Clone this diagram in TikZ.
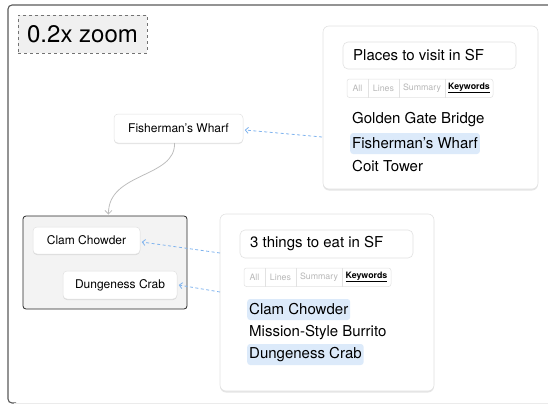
\documentclass[tikz,border=0pt]{standalone}
\usepackage{fontspec}
\setmainfont{TeX Gyre Heros}
\usetikzlibrary{arrows.meta,shadows,calc}
\definecolor{hl}{HTML}{DCEAFA}
\definecolor{linkblue}{HTML}{7FB3EE}
\definecolor{cardline}{HTML}{E2E2E2}
\definecolor{tabtext}{HTML}{B8B8B8}
\definecolor{groupfill}{HTML}{F3F3F3}
\definecolor{zoomfill}{HTML}{F0F0F0}
\definecolor{curvegray}{HTML}{BDBDBD}
\tikzset{
  card/.style={draw=cardline, fill=white, rounded corners=6pt, line width=0.6pt,
    drop shadow={shadow xshift=0pt, shadow yshift=-1.5pt, opacity=0.10, fill=black}},
  titlebox/.style={draw=cardline, fill=white, rounded corners=5pt, line width=0.6pt},
  mapnode/.style={draw=cardline, fill=white, rounded corners=4pt, line width=0.5pt,
    font=\fontsize{12}{14}\selectfont,
    drop shadow={shadow xshift=0pt, shadow yshift=-1pt, opacity=0.10, fill=black}},
  listitem/.style={anchor=west, inner xsep=2pt, inner ysep=0pt, minimum height=21pt,
    font=\fontsize{15}{17}\selectfont, rounded corners=3pt},
  tabitem/.style={inner sep=0pt, font=\fontsize{8.8}{10}\selectfont, text=tabtext},
  tabsel/.style={inner sep=0pt, font=\fontsize{8.8}{10}\selectfont\bfseries, text=black},
  linkarrow/.style={draw=linkblue, line width=0.8pt, dash pattern=on 3pt off 2.5pt,
    -{Straight Barb[length=3pt,width=6pt]}},
  curvearrow/.style={draw=curvegray, line width=0.8pt, -{Straight Barb[length=3.5pt,width=7pt]}},
}
\begin{document}
\begin{tikzpicture}[x=1pt,y=-1pt]
\useasboundingbox (0,0) rectangle (548,404);
% outer frame
\draw[color=black!65, line width=1.1pt, rounded corners=4pt] (549,5) -- (8,5) -- (8,403) -- (16,403);
\draw[color=black!8, line width=0.8pt] (14,403.4) -- (549,403.4);

% zoom label
\node[draw=black!55, dashed, fill=zoomfill, line width=0.5pt, minimum width=129pt, minimum height=38pt,
  inner sep=0pt, font=\fontsize{24}{28}\selectfont] (zoom) at (82.5,34) {0.2x zoom};

% card 1
\node[card, minimum width=215pt, minimum height=163pt, inner sep=0pt] (card1) at (430.5,107.5) {};
\node[titlebox, minimum width=173pt, minimum height=27pt, inner sep=0pt] (t1) at (429.5,55.5) {};
\node[anchor=west, inner sep=0pt, font=\fontsize{15}{17}\selectfont] (t1txt) at (353,55.5) {Places to visit in SF};
\draw[draw=cardline, line width=0.5pt, rounded corners=2.5pt] (347,79) rectangle (493,97.5);
\draw[draw=cardline, line width=0.5pt] (368,79) -- (368,97.5) (399,79) -- (399,97.5) (445,79) -- (445,97.5);
\node[tabitem] (a1) at (357.5,88) {All};
\node[tabitem] (l1) at (383.5,88) {Lines};
\node[tabitem] (s1) at (422,88) {Summary};
\node[tabsel] (k1) at (469,88) {\underline{Keywords}};
\node[listitem] (gg) at (350,120) {Golden Gate Bridge};
\node[listitem, fill=hl] (fw1) at (350,143.5) {Fisherman’s Wharf};
\node[listitem] (ct) at (350,166) {Coit Tower};

% Fisherman's Wharf node
\node[mapnode, minimum width=129pt, minimum height=29pt, inner sep=0pt] (fw) at (178.5,128.5) {Fisherman’s Wharf};

% group
\node[draw=black!85, fill=groupfill, rounded corners=3pt, line width=0.8pt, minimum width=164pt,
  minimum height=93pt, inner sep=0pt] (grp) at (105,262.5) {};
\node[mapnode, minimum width=107pt, minimum height=27pt, inner sep=0pt] (cc) at (86.5,240.5) {Clam Chowder};
\node[mapnode, minimum width=114pt, minimum height=28pt, inner sep=0pt] (dc) at (120,285) {Dungeness Crab};

% card 2
\node[card, minimum width=214pt, minimum height=177pt, inner sep=0pt] (card2) at (327,302.5) {};
\node[titlebox, minimum width=173pt, minimum height=28pt, inner sep=0pt] (t2) at (326.5,244) {};
\node[anchor=west, inner sep=0pt, font=\fontsize{15}{17}\selectfont] (t2txt) at (250,244) {3 things to eat in SF};
\draw[draw=cardline, line width=0.5pt, rounded corners=2.5pt] (244,268) rectangle (391,286.5);
\draw[draw=cardline, line width=0.5pt] (265,268) -- (265,286.5) (296,268) -- (296,286.5) (342,268) -- (342,286.5);
\node[tabitem] (a2) at (254.5,277) {All};
\node[tabitem] (l2) at (280.5,277) {Lines};
\node[tabitem] (s2) at (319,277) {Summary};
\node[tabsel] (k2) at (366.5,277) {\underline{Keywords}};
\node[listitem, fill=hl] (cc2) at (247,309.5) {Clam Chowder};
\node[listitem] (mb) at (247,332.5) {Mission-Style Burrito};
\node[listitem, fill=hl] (dc2) at (247,354.5) {Dungeness Crab};

% connectors
\coordinate (c1out) at (322,137);
\coordinate (c2outA) at (220,253);
\coordinate (c2outB) at (220,292);
\coordinate (grptop) at (108.5,214.5);
\coordinate (fwbot) at (174.5,143);
\draw[linkarrow] (c1out) -- ([xshift=1.5pt,yshift=-1.5pt]fw.east);
\draw[linkarrow] (c2outA) -- ([xshift=1.5pt,yshift=-1.5pt]cc.east);
\draw[linkarrow] (c2outB) -- ([xshift=1.5pt]dc.east);
\draw[curvearrow] (fwbot) .. controls (176,178) and (108,172) .. (grptop);
\end{tikzpicture}
\end{document}
